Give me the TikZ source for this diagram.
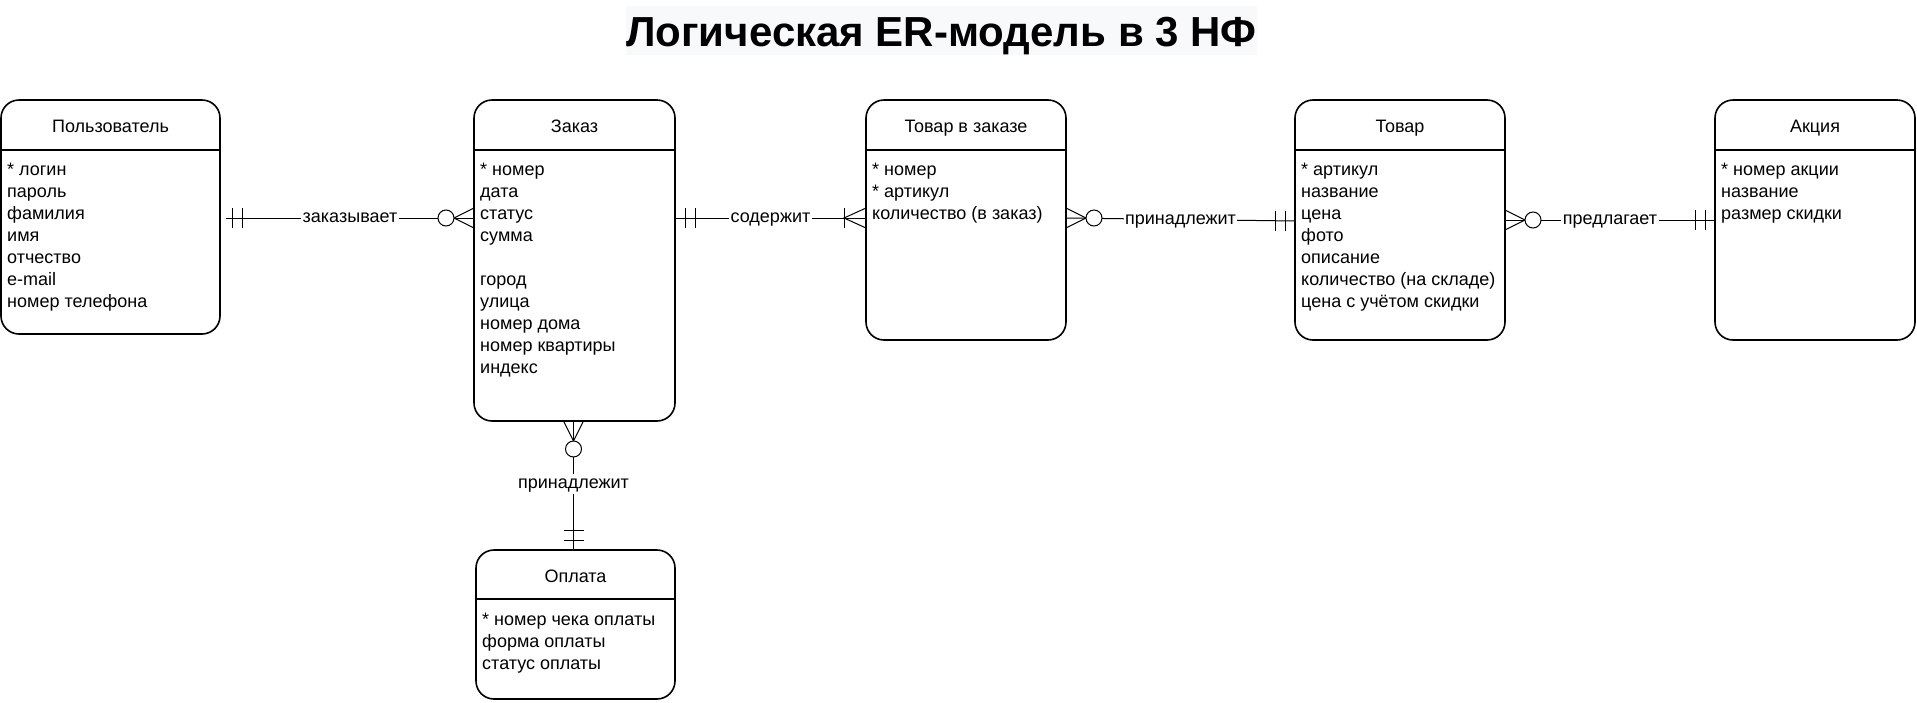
\documentclass[tikz,border=0pt]{standalone}
\usepackage{fontspec}
\setmainfont{Liberation Sans}
\definecolor{titlebg}{HTML}{F8F9FA}
\newcommand\erent[8]{%
  \node[ebox, minimum width=#4pt, minimum height=#5pt, anchor=north west] (#1) at (#2,#3) {};
  \draw[hline] ([yshift=-#6pt]#1.north west) -- ([yshift=-#6pt]#1.north east);
  \node[etitle] (#1-t) at ([yshift=-32pt]#1.north) {#7};
  \node[eattr] (#1-a) at ([xshift=6pt,yshift=-75pt]#1.north west) {\begin{tabular}[t]{@{}l@{}}#8\end{tabular}};
}
\newcommand\mone[3]{%
  \begin{scope}[shift={(#1)}, rotate=#2]
    \draw[conn] (#3,-10) -- (#3,10) (#3+10,-10) -- (#3+10,10);
  \end{scope}}
\newcommand\zmany[2]{%
  \begin{scope}[shift={(#1)}, rotate=#2]
    \draw[conn] (0,-10) -- (20,0) -- (0,10);
    \draw[conn, fill=white] (28,0) circle[radius=8];
  \end{scope}}
\newcommand\omany[2]{%
  \begin{scope}[shift={(#1)}, rotate=#2]
    \draw[conn] (0,-10) -- (22,0) -- (0,10);
    \draw[conn] (22,-10) -- (22,10);
  \end{scope}}
\begin{document}
\begin{tikzpicture}[x=1pt,y=-1pt,
  ebox/.style={draw, line width=1.6pt, rounded corners=18pt, inner sep=0pt, outer sep=0pt},
  hline/.style={line width=1.6pt},
  etitle/.style={font=\fontsize{18}{22}\selectfont, inner sep=0pt, anchor=base},
  eattr/.style={font=\fontsize{18}{22}\selectfont, inner sep=0pt, anchor=base west, align=left},
  conn/.style={line width=1pt},
  rel/.style={font=\fontsize{18}{22}\selectfont, fill=white, inner sep=1.5pt, text height=13pt, text depth=3.6pt}]
\useasboundingbox (0,0) rectangle (1917,702);
% title
\node[fill=titlebg, minimum width=631pt, minimum height=49pt, inner sep=0pt] (titlebox) at (941.5,30.5) {};
\node[font=\fontsize{42}{50}\selectfont\bfseries, anchor=base, inner sep=0pt] (title) at (941.5,46) {Логическая ER-модель в 3 НФ};
% entities
\erent{user}{1}{100}{219}{234}{50}{Пользователь}{* логин\\пароль\\фамилия\\имя\\отчество\\e-mail\\номер телефона}
\erent{order}{474}{100}{201}{321}{50}{Заказ}{* номер\\дата\\статус\\сумма\\ \\город\\улица\\номер дома\\номер квартиры\\индекс}
\erent{oitem}{866}{100}{200}{240}{50}{Товар в заказе}{* номер\\{}* артикул\\количество (в заказ)}
\erent{product}{1295}{100}{210}{240}{50}{Товар}{* артикул\\название\\цена\\фото\\описание\\количество (на складе)\\цена с учётом скидки}
\erent{promo}{1715}{100}{200}{240}{50}{Акция}{* номер акции\\название\\размер скидки}
\erent{pay}{476}{550}{199}{149}{49}{Оплата}{* номер чека оплаты\\форма оплаты\\статус оплаты}
% connector 1
\coordinate (y218) at (0,218);
\coordinate (y220) at (0,220);
\coordinate (y221) at (0,221);
\coordinate (u1) at (user.east |- y218);
\coordinate (u1s) at ([xshift=6pt]u1);
\coordinate (o1) at (order.west |- y218);
\draw[conn] (u1s) -- node[rel] (l1) {заказывает} (o1);
\mone{u1}{0}{12}
\zmany{o1}{180}
% connector 2
\coordinate (o2) at (order.east |- y218);
\coordinate (i2) at (oitem.west |- y218);
\draw[conn] (o2) -- node[rel] (l2) {содержит} (i2);
\mone{o2}{0}{10}
\omany{i2}{180}
% connector 3
\coordinate (i3) at (oitem.east |- y218);
\coordinate (p3) at (product.west |- y221);
\draw[conn] (i3) -- node[rel] (l3) {принадлежит} (p3);
\zmany{i3}{0}
\mone{p3}{180}{10}
% connector 4
\coordinate (p4) at (product.east |- y220);
\coordinate (a4) at (promo.west |- y220);
\draw[conn] (p4) -- node[rel] (l4) {предлагает} (a4);
\zmany{p4}{0}
\mone{a4}{180}{10}
% connector 5
\coordinate (o5) at ([xshift=-1pt]order.south);
\coordinate (p5) at (pay.north -| o5);
\draw[conn] (o5) -- node[rel, pos=0.49] (l5) {принадлежит} (p5);
\zmany{o5}{-90}
\mone{p5}{90}{10}
\end{tikzpicture}
\end{document}
